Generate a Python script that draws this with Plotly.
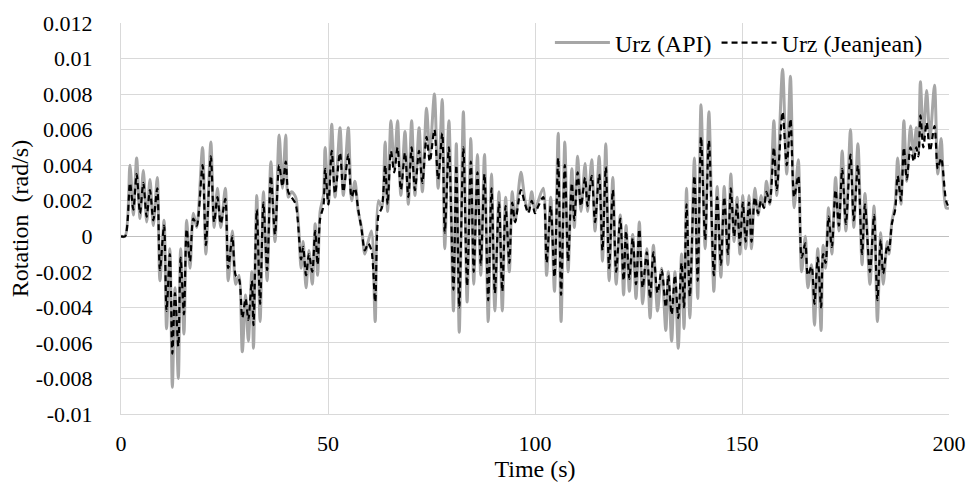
import plotly.graph_objects as go

# Time (s) of readings (peaks/troughs)
time_s = [0, 1.0, 2.17, 2.98, 3.78, 4.59, 5.39, 6.2, 7.0, 7.8, 8.77, 9.4, 10.4, 11.0, 11.8, 12.4, 13.04, 13.85, 14.4, 15.2,
          15.86, 16.67, 17.47, 18.3, 19.7, 20.5, 21.7, 22.5, 23.3, 24.1, 25.2, 25.9, 26.9, 27.7, 28.5, 29.3, 30.1, 30.75, 31.6, 32.0,
          32.8, 33.6, 34.4, 35.3, 36.2, 37.2, 38.2, 39.0, 39.8, 40.4, 41.2, 42.2, 43.5, 44.0, 44.7, 45.4, 46.2, 46.9, 47.5, 48.1,
          48.9, 49.3, 50.1, 50.9, 51.7, 52.9, 53.7, 54.9, 55.7, 56.5, 57.3, 58.1, 58.9, 59.7, 60.5, 61.4, 62.2, 63.0, 63.8, 64.4,
          65.2, 66.0, 66.8, 67.6, 68.6, 69.4, 70.2, 71.0, 72.0, 72.8, 73.8, 74.6, 75.7, 76.6, 77.6, 78.2, 79.2, 80.3, 81.0, 81.7,
          82.7, 83.6, 84.5, 85.2, 86.1, 86.9, 87.8, 88.7, 89.5, 90.3, 91.3, 92.1, 92.9, 93.8, 94.5, 95.2, 96.6, 97.6, 98.4, 99.2,
          100.0, 100.8, 102.0, 102.8, 103.8, 104.7, 105.6, 106.3, 107.2, 108.0, 108.9, 109.5, 110.3, 111.1, 112.1, 112.7, 113.7, 114.5, 115.5, 116.3,
          117.1, 117.9, 118.8, 119.6, 120.6, 121.4, 122.0, 122.8, 123.6, 124.4, 125.2, 126.0, 127.0, 127.8, 128.6, 129.6, 130.6, 131.6, 132.2, 133.0,
          133.8, 134.6, 135.4, 136.0, 136.6, 137.4, 138.5, 139.3, 140.1, 141.1, 142.0, 143.2, 144.0, 144.9, 145.7, 146.6, 147.3, 148.1, 148.8, 149.5,
          150.2, 150.9, 151.7, 152.3, 153.1, 153.9, 154.6, 155.3, 155.9, 156.7, 157.7, 158.4, 159.8, 160.8, 161.7, 162.6, 163.6, 164.4, 165.3, 165.9,
          166.8, 167.5, 168.3, 169.1, 169.6, 170.2, 170.9, 171.7, 172.6, 173.4, 174.2, 175.1, 176.2, 177.0, 178.0, 179.0, 179.7, 180.9, 181.9, 182.7,
          183.5, 184.1, 185.1, 185.5, 186.2, 187.0, 187.6, 188.4, 189.1, 189.8, 190.7, 191.5, 192.1, 192.6, 193.1, 193.8, 194.6, 195.4, 196.5, 197.3,
          198.1, 199.3, 200.0]

# Urz (API) - grey solid
urz_api = [0, 0, 0.0040, 0.0012, 0.0044, 0.0010, 0.0037, 0.0008, 0.0032, 0.0006, 0.0033, -0.0025, 0.0009, -0.0052, -0.0007, -0.0085, -0.0029, -0.0080, -0.0007, -0.0055,
           0.0009, -0.0018, 0.0013, 0.0005, 0.0050, -0.0010, 0.0053, 0.0005, 0.0027, 0.0005, 0.0027, -0.0025, 0.0003, -0.0027, -0.0022, -0.0065, -0.0033, -0.0059, -0.0020, -0.0063,
           0.0023, -0.0048, 0.0025, -0.0025, 0.0042, -0.0003, 0.0057, 0.0027, 0.0057, 0.0022, 0.0025, 0.0022, -0.0018, -0.0003, -0.0029, -0.0008, -0.0027, 0.0007, -0.0022, 0.0014,
           0.0023, 0.0050, 0.0018, 0.0063, 0.0022, 0.0061, 0.0023, 0.0061, 0.0020, 0.0031, 0.0014, 0.0005, -0.0010, -0.0003, 0.0003, -0.0048, 0.0020, 0.0016, 0.0053, 0.0014,
           0.0065, 0.0038, 0.0065, 0.0023, 0.0059, 0.0018, 0.0065, 0.0023, 0.0061, 0.0025, 0.0072, 0.0046, 0.0080, 0.0027, 0.0077, -0.0007, 0.0065, -0.0042, 0.0052, -0.0054,
           0.0070, -0.0037, 0.0055, -0.0027, 0.0046, -0.0022, 0.0046, -0.0048, 0.0035, -0.0042, 0.0025, -0.0042, 0.0022, -0.0020, 0.0025, 0.0008, 0.0036, 0.0020, 0.0014, 0.0025,
           0.0014, 0.0020, 0.0027, -0.0022, 0.0022, -0.0031, 0.0058, -0.0048, 0.0053, -0.0020, 0.0038, 0.0005, 0.0045, 0.0014, 0.0041, 0.0014, 0.0043, 0.0003, 0.0045, -0.0014,
           0.0052, -0.0025, 0.0033, -0.0027, 0.0012, -0.0033, 0.0006, -0.0031, 0.0001, -0.0035, 0.0008, -0.0038, -0.0007, -0.0046, -0.0005, -0.0042, -0.0018, -0.0053, -0.0020, -0.0059,
           -0.0020, -0.0063, -0.0010, -0.0052, 0.0027, -0.0046, 0.0044, -0.0035, 0.0074, -0.0007, 0.0070, -0.0031, 0.0028, -0.0023, 0.0028, -0.0016, 0.0035, -0.0003, 0.0022, -0.0010,
           0.0023, -0.0007, 0.0023, -0.0007, 0.0027, 0.0012, 0.0023, 0.0016, 0.0031, 0.0018, 0.0065, 0.0023, 0.0094, 0.0035, 0.0090, 0.0016, 0.0043, -0.0020, 0.0000, -0.0029,
           -0.0016, -0.0050, -0.0007, -0.0053, -0.0005, -0.0018, 0.0016, -0.0010, 0.0033, 0.0003, 0.0048, 0.0003, 0.0060, 0.0005, 0.0052, -0.0016, 0.0024, -0.0027, 0.0017, -0.0048,
           0.0002, -0.0027, -0.0003, -0.0010, 0.0008, 0.0018, 0.0044, 0.0018, 0.0065, 0.0031, 0.0062, 0.0046, 0.0061, 0.0048, 0.0087, 0.0055, 0.0082, 0.0055, 0.0085, 0.0035,
           0.0055, 0.0016, 0.0016]

# Urz (Jeanjean) - black dashed
urz_jeanjean = [0, 0, 0.0030, 0.0015, 0.0035, 0.0013, 0.0030, 0.0011, 0.0026, 0.0009, 0.0027, -0.0019, 0.0006, -0.0042, -0.0010, -0.0066, -0.0032, -0.0062, -0.0012, -0.0044,
                0.0004, -0.0014, 0.0010, 0.0006, 0.0040, -0.0005, 0.0045, 0.0008, 0.0022, 0.0007, 0.0021, -0.0018, 0.0000, -0.0022, -0.0024, -0.0046, -0.0035, -0.0047, -0.0025, -0.0050,
                0.0015, -0.0038, 0.0019, -0.0019, 0.0034, 0.0001, 0.0040, 0.0028, 0.0042, 0.0025, 0.0022, 0.0018, -0.0013, -0.0006, -0.0022, -0.0010, -0.0020, 0.0003, -0.0016, 0.0010,
                0.0017, 0.0038, 0.0018, 0.0048, 0.0024, 0.0047, 0.0025, 0.0046, 0.0022, 0.0027, 0.0015, 0.0004, -0.0008, -0.0004, -0.0008, -0.0037, 0.0012, 0.0016, 0.0040, 0.0018,
                0.0048, 0.0036, 0.0050, 0.0026, 0.0047, 0.0022, 0.0050, 0.0026, 0.0048, 0.0030, 0.0056, 0.0042, 0.0060, 0.0032, 0.0058, 0.0002, 0.0050, -0.0030, 0.0040, -0.0040,
                0.0050, -0.0028, 0.0042, -0.0020, 0.0036, -0.0016, 0.0035, -0.0036, 0.0027, -0.0032, 0.0019, -0.0031, 0.0017, -0.0015, 0.0019, 0.0008, 0.0026, 0.0018, 0.0013, 0.0020,
                0.0013, 0.0017, 0.0022, -0.0015, 0.0017, -0.0023, 0.0044, -0.0033, 0.0040, -0.0014, 0.0030, 0.0009, 0.0036, 0.0017, 0.0033, 0.0017, 0.0034, 0.0008, 0.0035, -0.0008,
                0.0039, -0.0018, 0.0026, -0.0020, 0.0010, -0.0025, 0.0003, -0.0024, -0.0001, -0.0027, 0.0004, -0.0029, -0.0009, -0.0035, -0.0009, -0.0032, -0.0019, -0.0040, -0.0022, -0.0044,
                -0.0022, -0.0046, -0.0015, -0.0040, 0.0018, -0.0034, 0.0034, -0.0025, 0.0056, -0.0002, 0.0054, -0.0022, 0.0022, -0.0016, 0.0022, -0.0010, 0.0027, 0.0000, 0.0018, -0.0005,
                0.0019, -0.0003, 0.0019, -0.0003, 0.0022, 0.0013, 0.0020, 0.0016, 0.0025, 0.0019, 0.0050, 0.0026, 0.0070, 0.0040, 0.0066, 0.0022, 0.0034, -0.0012, -0.0004, -0.0022,
                -0.0017, -0.0038, -0.0012, -0.0040, -0.0010, -0.0015, 0.0011, -0.0006, 0.0026, 0.0006, 0.0038, 0.0007, 0.0046, 0.0009, 0.0040, -0.0010, 0.0018, -0.0020, 0.0012, -0.0036,
                -0.0002, -0.0021, -0.0005, -0.0008, 0.0007, 0.0015, 0.0034, 0.0020, 0.0050, 0.0032, 0.0050, 0.0042, 0.0050, 0.0045, 0.0068, 0.0050, 0.0064, 0.0048, 0.0062, 0.0038,
                0.0044, 0.0020, 0.0016]

x_ticks = [0, 50, 100, 150, 200]
x_tick_labels = ["0", "50", "100", "150", "200"]
y_ticks = [0.012, 0.01, 0.008, 0.006, 0.004, 0.002, 0, -0.002, -0.004, -0.006, -0.008, -0.01]
y_tick_labels = ["0.012", "0.01", "0.008", "0.006", "0.004", "0.002", "0",
                 "-0.002", "-0.004", "-0.006", "-0.008", "-0.01"]

FONT = "Liberation Serif"
FS = 24
TICK_FS = 22

fig = go.Figure()
fig.add_trace(go.Scatter(
    x=time_s, y=urz_api, mode="lines", name="Urz (API)",
    line=dict(color="#A6A6A6", width=3, shape="spline", smoothing=0.8),
))
fig.add_trace(go.Scatter(
    x=time_s, y=urz_jeanjean, mode="lines", name="Urz (Jeanjean)",
    line=dict(color="#000000", width=2.2, dash="6px,4px", shape="spline", smoothing=0.8),
))

fig.update_layout(
    width=970, height=483,
    margin=dict(l=121, r=21, t=23, b=69, autoexpand=False),
    paper_bgcolor="white", plot_bgcolor="white",
    font=dict(family=FONT, size=FS, color="#000000"),
    showlegend=True,
    legend=dict(orientation="h", x=0.518, xanchor="left", y=0.949, yanchor="middle",
                bgcolor="rgba(0,0,0,0)", font=dict(family=FONT, size=FS, color="#000000"),
                itemwidth=55, tracegroupgap=0),
    xaxis=dict(
        range=[0, 200], tickmode="array", tickvals=x_ticks, ticktext=x_tick_labels,
        tickfont=dict(family=FONT, size=TICK_FS),
        showgrid=True, gridcolor="#D9D9D9", gridwidth=1,
        showline=True, linecolor="#D9D9D9", linewidth=1, mirror=False,
        zeroline=False, ticks="", ticklabelstandoff=10, automargin=False,
        title=dict(text="Time (s)", standoff=2, font=dict(family=FONT, size=FS)),
    ),
    yaxis=dict(
        range=[-0.01, 0.012], tickmode="array", tickvals=y_ticks, ticktext=y_tick_labels,
        tickfont=dict(family=FONT, size=TICK_FS),
        showgrid=True, gridcolor="#D9D9D9", gridwidth=1,
        showline=True, linecolor="#D9D9D9", linewidth=1,
        zeroline=True, zerolinecolor="#BFBFBF", zerolinewidth=1,
        ticks="", ticklabelstandoff=23, automargin=False,
        title=dict(text="Rotation  (rad/s)", standoff=0, font=dict(family=FONT, size=FS)),
    ),
)

fig.write_html("out.html", config={"displayModeBar": False},
               post_script="document.body.style.margin='0';document.body.style.overflow='hidden';")
